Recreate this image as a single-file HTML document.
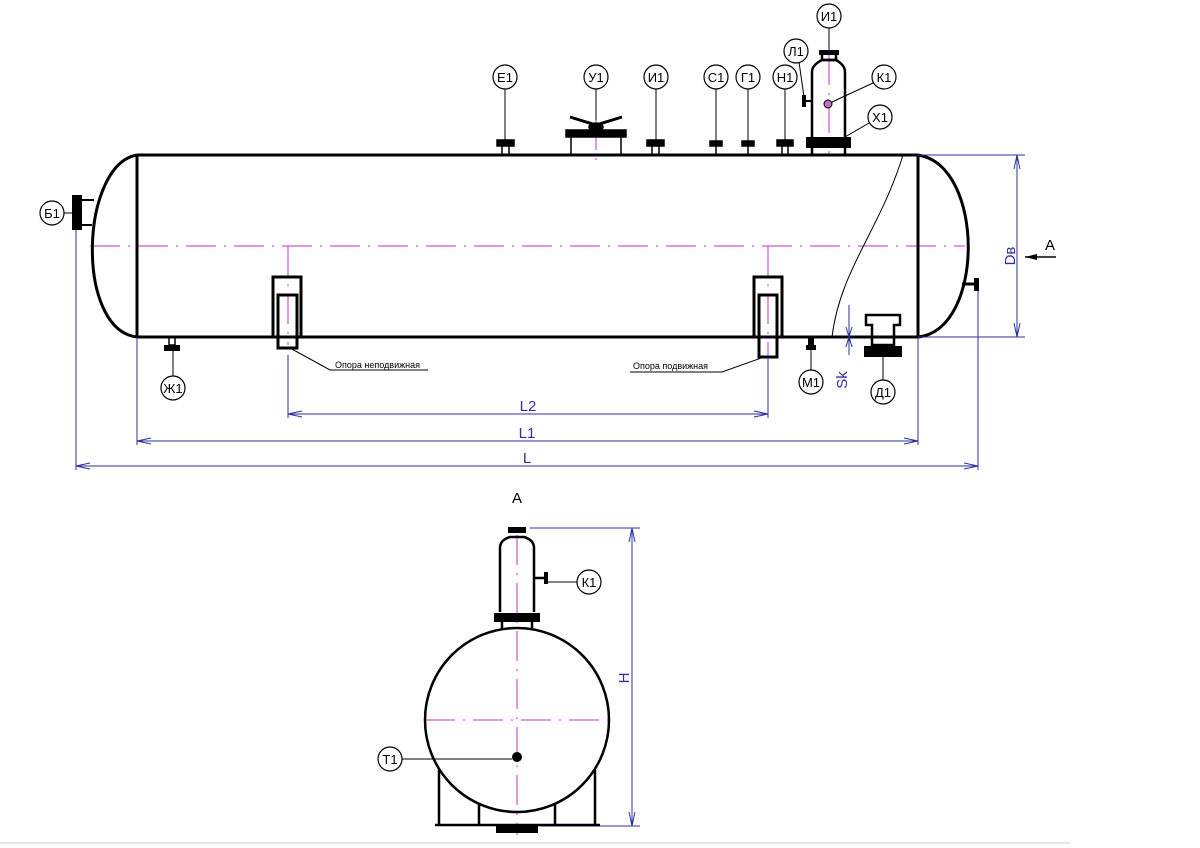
<!DOCTYPE html>
<html><head><meta charset="utf-8"><style>html,body{margin:0;padding:0;background:#fff}svg{display:block}text{font-family:"Liberation Sans","DejaVu Sans",sans-serif}</style></head><body>
<svg width="1200" height="848" viewBox="0 0 1200 848" xmlns="http://www.w3.org/2000/svg">
<rect width="1200" height="848" fill="#fff"/>
<g fill="none" stroke="#c030c0" stroke-width="1" stroke-dasharray="30,8,2,8">
<line x1="90" y1="246" x2="965" y2="246"/>
<line x1="288" y1="246" x2="288" y2="345"/>
<line x1="768" y1="246" x2="768" y2="355"/>
<line x1="596" y1="120" x2="596" y2="168"/>
<line x1="829" y1="55" x2="829" y2="155"/>
<line x1="425" y1="720" x2="610" y2="720"/>
<line x1="517" y1="535" x2="517" y2="835"/>
</g>
<!-- main vessel -->
<g fill="none" stroke="#000" stroke-width="3">
<line x1="137" y1="155" x2="918" y2="155"/>
<line x1="137" y1="337" x2="918" y2="337"/>
<line x1="137" y1="155" x2="137" y2="337"/>
<line x1="918" y1="155" x2="918" y2="337"/>
<path d="M137 155 C 80 165, 75 330, 137 337"/>
<path d="M918 155 C 985 165, 985 330, 918 337"/>
<rect x="273" y="277" width="28" height="60"/>
<rect x="278" y="295" width="19" height="53"/>
<rect x="754" y="277" width="28" height="60"/>
<rect x="759" y="295" width="18" height="62"/>
</g>
<path d="M903 155 C 880 230, 840 270, 832 337" fill="none" stroke="#000" stroke-width="1"/>
<!-- nozzles top -->
<g fill="#000" stroke="#000" stroke-width="1.5">
<rect x="497" y="140" width="17" height="6"/><line x1="502" y1="146" x2="502" y2="155"/><line x1="509" y1="146" x2="509" y2="155"/>
<rect x="647" y="140" width="17" height="6"/><line x1="652" y1="146" x2="652" y2="155"/><line x1="659" y1="146" x2="659" y2="155"/>
<rect x="710" y="141" width="12" height="5"/><line x1="716" y1="146" x2="716" y2="155"/>
<rect x="742" y="141" width="12" height="5"/><line x1="748" y1="146" x2="748" y2="155"/>
<rect x="777" y="140" width="16" height="6"/><line x1="782" y1="146" x2="782" y2="155"/><line x1="788" y1="146" x2="788" y2="155"/>
<rect x="566" y="130" width="60" height="7"/>
<line x1="571" y1="137" x2="571" y2="155"/><line x1="621" y1="137" x2="621" y2="155"/>
<path d="M570 117 L596 125 L622 117" fill="none" stroke-width="3"/>
<ellipse cx="596" cy="127" rx="7" ry="4"/>
</g>
<!-- separator top -->
<g fill="none" stroke="#000" stroke-width="2.5">
<path d="M812 137 L812 72 Q812 65 822 60 L836 60 Q845 65 845 72 L845 137"/>
<rect x="822" y="52" width="14" height="8"/>
<line x1="812" y1="148" x2="812" y2="155"/><line x1="845" y1="148" x2="845" y2="155"/>
</g>
<rect x="819" y="50" width="20" height="5" fill="#000"/>
<rect x="806" y="137" width="45" height="11" fill="#000"/>
<line x1="804" y1="101" x2="812" y2="101" stroke="#000" stroke-width="2"/>
<rect x="802" y="95" width="4" height="12" fill="#000"/>
<circle cx="828" cy="104" r="4" fill="#c070c0" stroke="#000"/>
<!-- B1 -->
<rect x="72" y="195" width="10" height="35" fill="#000"/>
<line x1="82" y1="200" x2="94" y2="200" stroke="#000" stroke-width="2"/><line x1="82" y1="225" x2="92" y2="225" stroke="#000" stroke-width="2"/>
<!-- right nozzle -->
<line x1="962" y1="284" x2="975" y2="284" stroke="#000" stroke-width="3"/><rect x="974" y="278" width="5" height="13" fill="#000"/>
<!-- bottom nozzles -->
<rect x="169" y="337" width="6" height="8" fill="none" stroke="#000" stroke-width="1.5"/><rect x="164" y="345" width="16" height="6" fill="#000"/>
<rect x="808" y="337" width="6" height="8" fill="#000"/><rect x="806" y="345" width="10" height="5" fill="#000"/>
<g fill="none" stroke="#000" stroke-width="2.5"><path d="M866 315 L900 315 L900 325 L894 325 L894 345 L872 345 L872 325 L866 325 Z"/></g>
<rect x="864" y="346" width="38" height="11" fill="#000"/>
<!-- leaders -->
<g stroke="#000" stroke-width="1" fill="none">
<line x1="505" y1="89" x2="505" y2="140"/><line x1="596" y1="89" x2="596" y2="120"/><line x1="656" y1="89" x2="656" y2="140"/>
<line x1="716" y1="89" x2="716" y2="141"/><line x1="748" y1="89" x2="748" y2="141"/><line x1="785" y1="89" x2="785" y2="140"/>
<line x1="829" y1="28" x2="829" y2="50"/><line x1="799" y1="62" x2="804" y2="97"/><line x1="873" y1="83" x2="832" y2="102"/><line x1="869" y1="123" x2="845" y2="137"/>
<line x1="64" y1="213" x2="72" y2="213"/><line x1="173" y1="351" x2="173" y2="376"/><line x1="811" y1="350" x2="811" y2="370"/><line x1="883" y1="357" x2="883" y2="380"/>
<path d="M290 348 L330 370 L428 370"/><path d="M764 357 L722 372 L630 372"/>
<line x1="402" y1="759" x2="512" y2="759"/><line x1="545" y1="582" x2="577" y2="582"/>
</g>
<!-- balloons -->
<g fill="#fff" stroke="#000" stroke-width="1.2">
<circle cx="505" cy="77" r="12"/><circle cx="596" cy="77" r="12"/><circle cx="656" cy="77" r="12"/><circle cx="716" cy="77" r="12"/><circle cx="748" cy="77" r="12"/><circle cx="785" cy="77" r="12"/><circle cx="829" cy="16" r="12"/><circle cx="796" cy="51" r="12"/><circle cx="884" cy="77" r="12"/><circle cx="880" cy="117" r="12"/><circle cx="52" cy="213" r="12"/><circle cx="173" cy="388" r="12"/><circle cx="811" cy="382" r="12"/><circle cx="883" cy="392" r="12"/><circle cx="390" cy="759" r="12"/><circle cx="589" cy="582" r="12"/>
</g>
<g font-size="13" text-anchor="middle" fill="#000">
<text x="505" y="82">Е1</text><text x="596" y="82">У1</text><text x="656" y="82">И1</text><text x="716" y="82">С1</text><text x="748" y="82">Г1</text><text x="785" y="82">Н1</text><text x="829" y="21">И1</text><text x="796" y="56">Л1</text><text x="884" y="82">К1</text><text x="880" y="122">Х1</text><text x="52" y="218">Б1</text><text x="173" y="393">Ж1</text><text x="811" y="387">М1</text><text x="883" y="397">Д1</text><text x="390" y="764">Т1</text><text x="589" y="587">К1</text>
</g>
<text x="335" y="368" font-size="9">Опора неподвижная</text>
<text x="633" y="369" font-size="9">Опора подвижная</text>
<!-- dimensions -->
<g stroke="#3030a0" stroke-width="1" fill="none">
<line x1="288" y1="355" x2="288" y2="418"/><line x1="768" y1="357" x2="768" y2="418"/><line x1="288" y1="414" x2="768" y2="414"/>
<line x1="137" y1="337" x2="137" y2="445"/><line x1="918" y1="337" x2="918" y2="445"/><line x1="137" y1="441" x2="918" y2="441"/>
<line x1="76" y1="230" x2="76" y2="470"/><line x1="978" y1="291" x2="978" y2="470"/><line x1="76" y1="466" x2="978" y2="466"/>
<line x1="918" y1="155" x2="1025" y2="155"/><line x1="918" y1="337" x2="1025" y2="337"/><line x1="1017" y1="155" x2="1017" y2="337"/>
<line x1="849" y1="305" x2="849" y2="355"/>
<line x1="530" y1="528" x2="640" y2="528"/><line x1="540" y1="826" x2="640" y2="826"/><line x1="632" y1="528" x2="632" y2="826"/>
<path d="M302 411 L288 414 L302 417 M754 411 L768 414 L754 417"/>
<path d="M151 438 L137 441 L151 444 M904 438 L918 441 L904 444"/>
<path d="M90 463 L76 466 L90 469 M964 463 L978 466 L964 469"/>
<path d="M1014 169 L1017 155 L1020 169 M1014 323 L1017 337 L1020 323"/>
<path d="M846 327 L849 337 L852 327 M846 347 L849 337 L852 347"/>
<path d="M629 542 L632 528 L635 542 M629 812 L632 826 L635 812"/>
</g>
<g fill="#3030a0" font-size="15">
<text x="528" y="411" text-anchor="middle">L2</text><text x="527" y="438" text-anchor="middle">L1</text><text x="527" y="463" text-anchor="middle">L</text>
<text transform="translate(1015 256) rotate(-90)" text-anchor="middle">Dв</text>
<text transform="translate(847 380) rotate(-90)" text-anchor="middle">Sk</text>
<text transform="translate(629 678) rotate(-90)" text-anchor="middle">H</text>
</g>
<line x1="1025" y1="257" x2="1056" y2="257" stroke="#000" stroke-width="1.5"/><path d="M1025 257 L1037 254 L1037 260 Z" fill="#000"/>
<text x="1050" y="250" font-size="15" text-anchor="middle">A</text>
<text x="517" y="503" font-size="15" text-anchor="middle">A</text>
<!-- view A -->
<g fill="none" stroke="#000" stroke-width="2.5">
<circle cx="517" cy="720" r="92"/>
<path d="M500 612 L500 548 Q500 540 510 537 L524 537 Q534 540 534 548 L534 612"/>
<line x1="502" y1="622" x2="502" y2="630"/><line x1="532" y1="622" x2="532" y2="630"/>
<line x1="439" y1="770" x2="439" y2="825"/><line x1="595" y1="770" x2="595" y2="825"/>
<line x1="479" y1="803" x2="479" y2="825"/><line x1="555" y1="803" x2="555" y2="825"/>
<line x1="435" y1="825" x2="600" y2="825"/>
<line x1="534" y1="578" x2="544" y2="578"/>
</g>
<rect x="508" y="527" width="18" height="6" fill="#000"/>
<rect x="494" y="613" width="46" height="9" fill="#000"/>
<rect x="544" y="572" width="4" height="12" fill="#000"/>
<rect x="496" y="825" width="42" height="8" fill="#000"/>
<circle cx="517" cy="757" r="5" fill="#000"/>
<line x1="0" y1="843" x2="1070" y2="843" stroke="#ccc" stroke-width="1"/>
</svg>
</body></html>
